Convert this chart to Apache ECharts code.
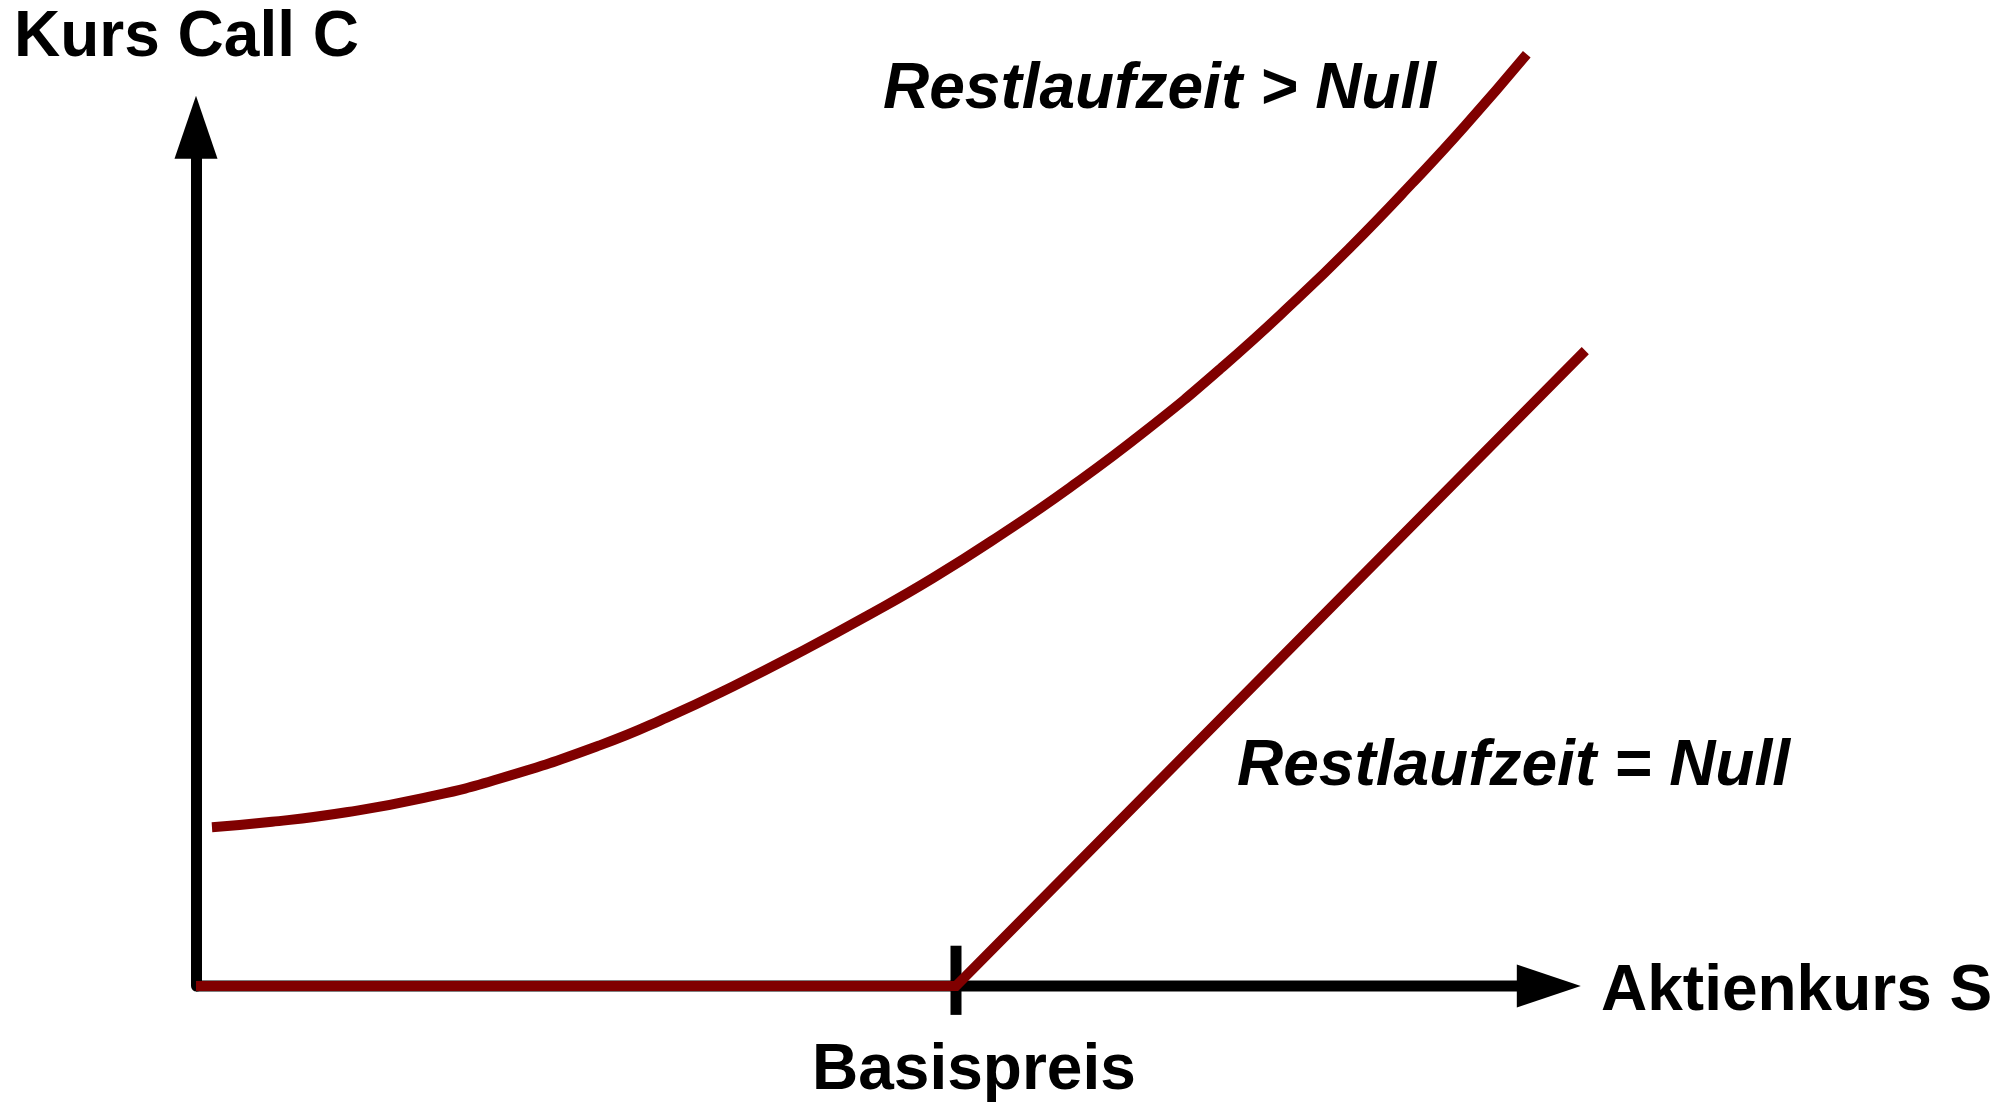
<!DOCTYPE html>
<html>
<head>
<meta charset="utf-8">
<script src="https://cdn.jsdelivr.net/npm/echarts@6/dist/echarts.min.js"></script>
<style>
html,body{margin:0;padding:0;background:#fff;}
#chart{width:2006px;height:1102px;}
</style>
</head>
<body>
<div id="chart"></div>
<script>
// Data (stock price S, call price C)
const strike = 100;
const curveS = [2.1, 10, 20, 30, 40, 53.2, 62, 70.7, 80, 88.3, 97, 105.8, 115, 125, 135, 145, 152, 160, 167, 175.1];
const curveC = [20.9, 21.6, 22.9, 24.75, 27.3, 31.7, 35.35, 39.45, 44.2, 48.7, 53.7, 59.3, 65.6, 73.1, 81.4, 90.5, 97.3, 105.6, 113.2, 122.6];
const payoffS = [0, 100, 182.8];
const payoffC = [0, 0, 83.6];
const tickC = [5.3, -3.8];
const xAxisS = [0, 178];
const labels = {
  yName: 'Kurs Call C',
  xName: 'Aktienkurs S',
  strike: 'Basispreis',
  upper: 'Restlaufzeit > Null',
  lower: 'Restlaufzeit = Null'
};

const red = '#800000';
const font = '"Liberation Sans", Arial, sans-serif';

const chart = echarts.init(document.getElementById('chart'), null, {renderer: 'canvas'});
const zipPts = (xs, ys) => xs.map((x, i) => [x, ys[i]]);

chart.setOption({
  animation: false,
  backgroundColor: '#fff',
  grid: {left: 196, right: 404, top: 127.2, bottom: 116, containLabel: false},
  xAxis: {
    type: 'value', min: 0, max: 185,
    axisLine: {show: false},
    axisTick: {show: false}, axisLabel: {show: false}, splitLine: {show: false}
  },
  yAxis: {
    type: 'value', min: 0, max: 113,
    axisLine: {show: true, onZero: false, lineStyle: {color: '#000', width: 11},
      symbol: ['none', 'triangle'], symbolSize: [43, 63]},
    axisTick: {show: false}, axisLabel: {show: false}, splitLine: {show: false}
  },
  series: [
    {
      type: 'line', clip: false, symbol: 'none', silent: true, z: 1,
      data: zipPts(xAxisS, [0, 0]),
      lineStyle: {color: '#000', width: 11, cap: 'butt'}
    },
    {
      type: 'scatter', clip: false, silent: true, z: 1,
      symbol: 'triangle', symbolSize: [43, 64], symbolRotate: -90,
      itemStyle: {color: '#000', opacity: 1},
      data: [[xAxisS[1], 0]]
    },
    {
      type: 'line', clip: false, symbol: 'none', silent: true, z: 2,
      data: zipPts([strike, strike], tickC),
      lineStyle: {color: '#000', width: 11, cap: 'butt'}
    },
    {
      type: 'line', clip: false, symbol: 'none', silent: true, z: 3,
      data: zipPts(payoffS, payoffC),
      lineStyle: {color: red, width: 10, cap: 'butt', join: 'miter'}
    },
    {
      type: 'line', clip: false, symbol: 'none', silent: true, z: 3,
      smooth: 0.5,
      data: zipPts(curveS, curveC),
      lineStyle: {color: red, width: 10, cap: 'butt'}
    }
  ],
  graphic: [
    {type: 'text', x: 14, y: 38, style: {text: labels.yName, font: 'bold 64px ' + font, fill: '#000', verticalAlign: 'middle'}},
    {type: 'text', x: 1601, y: 992, style: {text: labels.xName, font: 'bold 64px ' + font, fill: '#000', verticalAlign: 'middle'}},
    {type: 'text', x: 812, y: 1071, style: {text: labels.strike, font: 'bold 64px ' + font, fill: '#000', verticalAlign: 'middle'}},
    {type: 'text', x: 883, y: 90, style: {text: labels.upper, font: 'italic bold 64px ' + font, fill: '#000', verticalAlign: 'middle'}},
    {type: 'text', x: 1237, y: 767, style: {text: labels.lower, font: 'italic bold 64px ' + font, fill: '#000', verticalAlign: 'middle'}}
  ]
});
</script>
</body>
</html>
